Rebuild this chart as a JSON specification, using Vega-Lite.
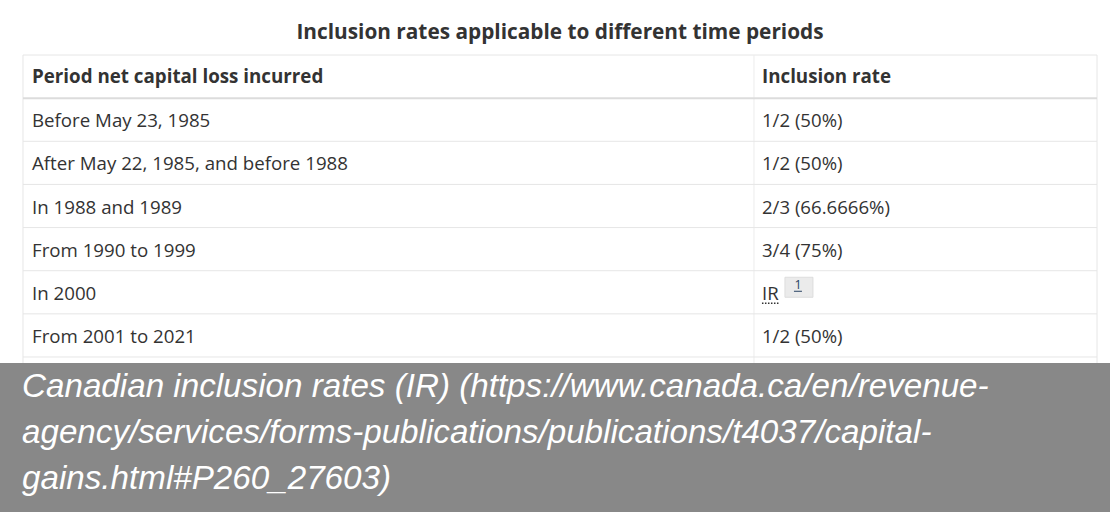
{
  "$schema": "https://vega.github.io/schema/vega-lite/v6.json",
  "width": 1110,
  "height": 512,
  "autosize": {"type": "fit", "contains": "padding"},
  "padding": 0,
  "background": "white",
  "config": {"view": {"stroke": null}},
  "datasets": {
    "rows": [
      {"row": 0, "period": "Period net capital loss incurred", "rate": "Inclusion rate"},
      {"row": 1, "period": "Before May 23, 1985", "rate": "1/2 (50%)"},
      {"row": 2, "period": "After May 22, 1985, and before 1988", "rate": "1/2 (50%)"},
      {"row": 3, "period": "In 1988 and 1989", "rate": "2/3 (66.6666%)"},
      {"row": 4, "period": "From 1990 to 1999", "rate": "3/4 (75%)"},
      {"row": 5, "period": "In 2000", "rate": "IR", "note": "1"},
      {"row": 6, "period": "From 2001 to 2021", "rate": "1/2 (50%)"}
    ]
  },
  "data": {"name": "rows"},
  "layer": [
    {
      "data": {"values": [{}]},
      "mark": {"type": "rect", "fill": "white", "stroke": "#e6e6e6", "strokeWidth": 1},
      "encoding": {
        "x": {"datum": 0, "type": "quantitative", "scale": {"domain": [-2.1415, 101.21], "nice": false, "zero": false}, "axis": null},
        "x2": {"datum": 100},
        "y": {"datum": -0.5, "type": "quantitative", "scale": {"domain": [-1.7749, 10.093], "reverse": true, "nice": false, "zero": false}, "axis": null},
        "y2": {"datum": 7.5}
      }
    },
    {
      "data": {"values": [{}]},
      "mark": {"type": "rule", "stroke": "#ececec", "strokeWidth": 1},
      "encoding": {
        "x": {"datum": 68.06, "type": "quantitative", "scale": {"domain": [-2.1415, 101.21], "nice": false, "zero": false}, "axis": null},
        "y": {"datum": -0.5, "type": "quantitative", "scale": {"domain": [-1.7749, 10.093], "reverse": true, "nice": false, "zero": false}, "axis": null},
        "y2": {"datum": 7.5}
      }
    },
    {
      "transform": [{"filter": "datum.row >= 1"}],
      "mark": {"type": "rule", "yOffset": -21.57},
      "encoding": {
        "x": {"datum": 0, "type": "quantitative", "scale": {"domain": [-2.1415, 101.21], "nice": false, "zero": false}, "axis": null},
        "x2": {"datum": 100},
        "y": {"field": "row", "type": "quantitative", "scale": {"domain": [-1.7749, 10.093], "reverse": true, "nice": false, "zero": false}, "axis": null},
        "strokeWidth": {"condition": {"test": "datum.row == 1", "value": 2}, "value": 1},
        "color": {"condition": {"test": "datum.row == 1", "value": "#dcdcdc"}, "value": "#e6e6e6"}
      }
    },
    {
      "data": {"values": [{}]},
      "mark": {"type": "rule", "stroke": "#e6e6e6", "strokeWidth": 1},
      "encoding": {
        "x": {"datum": 0, "type": "quantitative", "scale": {"domain": [-2.1415, 101.21], "nice": false, "zero": false}, "axis": null},
        "x2": {"datum": 100},
        "y": {"datum": 6.5, "type": "quantitative", "scale": {"domain": [-1.7749, 10.093], "reverse": true, "nice": false, "zero": false}, "axis": null}
      }
    },
    {
      "transform": [{"filter": "datum.row == 0"}],
      "mark": {"type": "text", "align": "left", "baseline": "alphabetic", "dy": 6.8, "font": "Open Sans", "fontSize": 18.75, "fontWeight": "bold", "color": "#333333"},
      "encoding": {
        "x": {"datum": 0, "type": "quantitative", "scale": {"domain": [-2.1415, 101.21], "nice": false, "zero": false}, "axis": null},
        "y": {"field": "row", "type": "quantitative", "scale": {"domain": [-1.7749, 10.093], "reverse": true, "nice": false, "zero": false}, "axis": null},
        "text": {"field": "period"},
        "xOffset": {"value": 9}
      }
    },
    {
      "transform": [{"filter": "datum.row == 0"}],
      "mark": {"type": "text", "align": "left", "baseline": "alphabetic", "dy": 6.8, "font": "Open Sans", "fontSize": 18.75, "fontWeight": "bold", "color": "#333333"},
      "encoding": {
        "x": {"datum": 68.06, "type": "quantitative", "scale": {"domain": [-2.1415, 101.21], "nice": false, "zero": false}, "axis": null},
        "y": {"field": "row", "type": "quantitative", "scale": {"domain": [-1.7749, 10.093], "reverse": true, "nice": false, "zero": false}, "axis": null},
        "text": {"field": "rate"},
        "xOffset": {"value": 8}
      }
    },
    {
      "transform": [{"filter": "datum.row >= 1"}],
      "mark": {"type": "text", "align": "left", "baseline": "alphabetic", "dy": 7.6, "font": "Open Sans", "fontSize": 18.7, "color": "#333333"},
      "encoding": {
        "x": {"datum": 0, "type": "quantitative", "scale": {"domain": [-2.1415, 101.21], "nice": false, "zero": false}, "axis": null},
        "y": {"field": "row", "type": "quantitative", "scale": {"domain": [-1.7749, 10.093], "reverse": true, "nice": false, "zero": false}, "axis": null},
        "text": {"field": "period"},
        "xOffset": {"value": 9}
      }
    },
    {
      "transform": [{"filter": "datum.row >= 1"}],
      "mark": {"type": "text", "align": "left", "baseline": "alphabetic", "dy": 7.6, "font": "Open Sans", "fontSize": 18.6, "color": "#333333"},
      "encoding": {
        "x": {"datum": 68.06, "type": "quantitative", "scale": {"domain": [-2.1415, 101.21], "nice": false, "zero": false}, "axis": null},
        "y": {"field": "row", "type": "quantitative", "scale": {"domain": [-1.7749, 10.093], "reverse": true, "nice": false, "zero": false}, "axis": null},
        "text": {"field": "rate"},
        "xOffset": {"value": 8}
      }
    },
    {
      "transform": [{"filter": "datum.rate == 'IR'"}],
      "mark": {"type": "rule", "stroke": "#333333", "strokeWidth": 1.5, "strokeDash": [1.5, 1.5], "xOffset": 8, "x2Offset": 26, "yOffset": 11},
      "encoding": {
        "x": {"datum": 68.06, "type": "quantitative", "scale": {"domain": [-2.1415, 101.21], "nice": false, "zero": false}, "axis": null},
        "x2": {"datum": 68.06},
        "y": {"field": "row", "type": "quantitative", "scale": {"domain": [-1.7749, 10.093], "reverse": true, "nice": false, "zero": false}, "axis": null}
      }
    },
    {
      "transform": [{"filter": "datum.rate == 'IR'"}],
      "mark": {"type": "rect", "fill": "#ebebeb", "stroke": "#dddddd", "strokeWidth": 1, "xOffset": 31, "x2Offset": 59, "yOffset": -15, "y2Offset": 5},
      "encoding": {
        "x": {"datum": 68.06, "type": "quantitative", "scale": {"domain": [-2.1415, 101.21], "nice": false, "zero": false}, "axis": null},
        "x2": {"datum": 68.06},
        "y": {"field": "row", "type": "quantitative", "scale": {"domain": [-1.7749, 10.093], "reverse": true, "nice": false, "zero": false}, "axis": null},
        "y2": {"field": "row"}
      }
    },
    {
      "transform": [{"filter": "datum.rate == 'IR'"}],
      "mark": {"type": "text", "align": "center", "baseline": "alphabetic", "dx": 44, "dy": -3, "font": "Open Sans", "fontSize": 12.5, "color": "#284162"},
      "encoding": {
        "x": {"datum": 68.06, "type": "quantitative", "scale": {"domain": [-2.1415, 101.21], "nice": false, "zero": false}, "axis": null},
        "y": {"field": "row", "type": "quantitative", "scale": {"domain": [-1.7749, 10.093], "reverse": true, "nice": false, "zero": false}, "axis": null},
        "text": {"field": "note"}
      }
    },
    {
      "transform": [{"filter": "datum.rate == 'IR'"}],
      "mark": {"type": "rule", "stroke": "#284162", "strokeWidth": 1, "xOffset": 40, "x2Offset": 48, "yOffset": -1},
      "encoding": {
        "x": {"datum": 68.06, "type": "quantitative", "scale": {"domain": [-2.1415, 101.21], "nice": false, "zero": false}, "axis": null},
        "x2": {"datum": 68.06},
        "y": {"field": "row", "type": "quantitative", "scale": {"domain": [-1.7749, 10.093], "reverse": true, "nice": false, "zero": false}, "axis": null}
      }
    },
    {
      "data": {"values": [{"label": "Inclusion rates applicable to different time periods"}]},
      "mark": {"type": "text", "align": "center", "baseline": "alphabetic", "font": "Open Sans", "fontSize": 20.8, "fontWeight": "bold", "color": "#333333"},
      "encoding": {
        "x": {"datum": 50, "type": "quantitative", "scale": {"domain": [-2.1415, 101.21], "nice": false, "zero": false}, "axis": null},
        "y": {"datum": -0.864, "type": "quantitative", "scale": {"domain": [-1.7749, 10.093], "reverse": true, "nice": false, "zero": false}, "axis": null},
        "text": {"field": "label"}
      }
    },
    {
      "data": {"values": [{}]},
      "mark": {"type": "rect", "fill": "#888888"},
      "encoding": {
        "x": {"datum": -2.1415, "type": "quantitative", "scale": {"domain": [-2.1415, 101.21], "nice": false, "zero": false}, "axis": null},
        "x2": {"datum": 101.21},
        "y": {"datum": 6.64, "type": "quantitative", "scale": {"domain": [-1.7749, 10.093], "reverse": true, "nice": false, "zero": false}, "axis": null},
        "y2": {"datum": 10.093}
      }
    },
    {
      "data": {"values": [{"caption": ["Canadian inclusion rates (IR) (https://www.canada.ca/en/revenue-", "agency/services/forms-publications/publications/t4037/capital-", "gains.html#P260_27603)"]}]},
      "mark": {"type": "text", "align": "left", "baseline": "alphabetic", "font": "Liberation Sans", "fontSize": 33.2, "fontStyle": "italic", "lineHeight": 46, "color": "white", "dx": -1},
      "encoding": {
        "x": {"datum": 0, "type": "quantitative", "scale": {"domain": [-2.1415, 101.21], "nice": false, "zero": false}, "axis": null},
        "y": {"datum": 7.428, "type": "quantitative", "scale": {"domain": [-1.7749, 10.093], "reverse": true, "nice": false, "zero": false}, "axis": null},
        "text": {"field": "caption"}
      }
    }
  ]
}
